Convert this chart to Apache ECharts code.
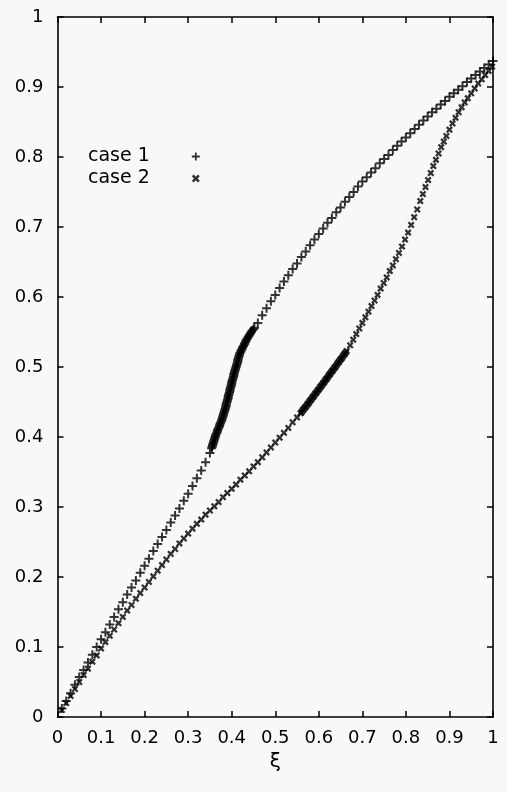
<!DOCTYPE html>
<html><head><meta charset="utf-8">
<script src="https://cdn.jsdelivr.net/npm/echarts@6/dist/echarts.min.js"></script>
<style>html,body{margin:0;padding:0;background:#f8f8f8}#c{width:507px;height:792px}</style>
</head><body><div id="c"></div>
<script>
// ---- data ----
const axisMin = 0, axisMax = 1, tickStep = 0.1;
const seriesNames = ['case 1', 'case 2'];
const xName = 'ξ';

const case1Lower = [[0.01,0.012],[0.02,0.023],[0.03,0.034],[0.04,0.046],[0.05,0.057],[0.06,0.067],[0.07,0.078],[0.08,0.089],[0.09,0.1],[0.10,0.111],[0.11,0.121],[0.12,0.132],[0.13,0.143],[0.14,0.154],[0.15,0.164],[0.16,0.175],[0.17,0.185],[0.18,0.195],[0.19,0.206],[0.20,0.216],[0.21,0.226],[0.22,0.237],[0.23,0.247],[0.24,0.257],[0.25,0.267],[0.26,0.278],[0.27,0.288],[0.28,0.298],[0.29,0.309],[0.30,0.319],[0.31,0.330],[0.32,0.341],[0.33,0.352],[0.34,0.364],[0.35,0.377]];
const case1Dense = [[0.354,0.384],[0.355,0.386],[0.356,0.388],[0.357,0.390],[0.358,0.392],[0.359,0.394],[0.360,0.396],[0.361,0.398],[0.362,0.400],[0.363,0.402],[0.364,0.404],[0.366,0.406],[0.367,0.408],[0.368,0.410],[0.369,0.412],[0.371,0.414],[0.372,0.416],[0.373,0.418],[0.374,0.420],[0.376,0.422],[0.377,0.424],[0.378,0.426],[0.379,0.428],[0.380,0.430],[0.381,0.432],[0.382,0.434],[0.383,0.436],[0.384,0.438],[0.385,0.440],[0.386,0.442],[0.387,0.444],[0.387,0.446],[0.388,0.448],[0.389,0.450],[0.390,0.452],[0.391,0.454],[0.392,0.456],[0.392,0.458],[0.393,0.460],[0.394,0.462],[0.395,0.464],[0.396,0.466],[0.396,0.468],[0.397,0.470],[0.398,0.472],[0.399,0.474],[0.400,0.476],[0.400,0.478],[0.401,0.480],[0.402,0.482],[0.403,0.484],[0.404,0.486],[0.405,0.488],[0.405,0.490],[0.406,0.492],[0.407,0.494],[0.408,0.496],[0.409,0.498],[0.410,0.500],[0.411,0.502],[0.412,0.504],[0.413,0.506],[0.414,0.508],[0.414,0.510],[0.415,0.512],[0.416,0.514],[0.417,0.516],[0.418,0.518],[0.419,0.520],[0.421,0.522],[0.422,0.524],[0.424,0.526],[0.425,0.528],[0.427,0.530],[0.429,0.532],[0.430,0.534],[0.432,0.536],[0.433,0.538],[0.435,0.540],[0.437,0.542],[0.439,0.544],[0.441,0.546],[0.443,0.548],[0.445,0.550],[0.447,0.552],[0.450,0.554],[0.452,0.556]];
const case1Upper = [[0.46,0.563],[0.47,0.574],[0.48,0.584],[0.49,0.594],[0.50,0.603],[0.51,0.613],[0.52,0.622],[0.53,0.631],[0.54,0.640],[0.55,0.648],[0.56,0.657],[0.57,0.665],[0.58,0.674],[0.59,0.682],[0.60,0.690],[0.61,0.698],[0.62,0.706],[0.63,0.713],[0.64,0.721],[0.65,0.728],[0.66,0.736],[0.67,0.743],[0.68,0.750],[0.69,0.758],[0.70,0.765],[0.71,0.771],[0.72,0.778],[0.73,0.784],[0.74,0.791],[0.75,0.797],[0.76,0.803],[0.77,0.810],[0.78,0.816],[0.79,0.822],[0.80,0.828],[0.81,0.834],[0.82,0.840],[0.83,0.846],[0.84,0.852],[0.85,0.858],[0.86,0.864],[0.87,0.869],[0.88,0.875],[0.89,0.880],[0.90,0.886],[0.91,0.891],[0.92,0.896],[0.93,0.901],[0.94,0.907],[0.95,0.912],[0.96,0.917],[0.97,0.922],[0.98,0.927],[0.99,0.932],[1.00,0.937]];

const case2Lower = [[0.01,0.010],[0.02,0.020],[0.03,0.030],[0.04,0.040],[0.05,0.050],[0.06,0.060],[0.07,0.069],[0.08,0.079],[0.09,0.088],[0.10,0.098],[0.11,0.107],[0.12,0.116],[0.13,0.125],[0.14,0.134],[0.15,0.143],[0.16,0.152],[0.17,0.160],[0.18,0.169],[0.19,0.177],[0.20,0.185],[0.21,0.193],[0.22,0.201],[0.23,0.209],[0.24,0.217],[0.25,0.225],[0.26,0.233],[0.27,0.240],[0.28,0.248],[0.29,0.255],[0.30,0.262],[0.31,0.269],[0.32,0.276],[0.33,0.282],[0.34,0.289],[0.35,0.295],[0.36,0.301],[0.37,0.307],[0.38,0.314],[0.39,0.320],[0.40,0.326],[0.41,0.332],[0.42,0.339],[0.43,0.345],[0.44,0.351],[0.45,0.358],[0.46,0.364],[0.47,0.371],[0.48,0.378],[0.49,0.385],[0.50,0.392],[0.51,0.399],[0.52,0.406],[0.53,0.413],[0.54,0.421],[0.55,0.428]];
const case2Dense = [[0.558,0.434],[0.560,0.435],[0.562,0.437],[0.564,0.439],[0.566,0.440],[0.568,0.442],[0.570,0.443],[0.572,0.445],[0.574,0.447],[0.576,0.448],[0.578,0.450],[0.580,0.452],[0.582,0.453],[0.584,0.455],[0.586,0.457],[0.588,0.458],[0.590,0.460],[0.592,0.462],[0.594,0.463],[0.596,0.465],[0.598,0.467],[0.600,0.468],[0.602,0.470],[0.604,0.472],[0.606,0.473],[0.608,0.475],[0.610,0.477],[0.612,0.478],[0.614,0.480],[0.616,0.482],[0.618,0.483],[0.620,0.485],[0.622,0.487],[0.624,0.489],[0.626,0.490],[0.628,0.492],[0.630,0.494],[0.632,0.495],[0.634,0.497],[0.636,0.499],[0.638,0.500],[0.640,0.502],[0.642,0.504],[0.644,0.506],[0.646,0.507],[0.648,0.509],[0.650,0.511],[0.652,0.512],[0.654,0.514],[0.656,0.516],[0.658,0.518],[0.660,0.519],[0.662,0.521],[0.664,0.523]];
const case2Upper = [[0.672,0.531],[0.679,0.539],[0.686,0.547],[0.693,0.555],[0.700,0.563],[0.707,0.571],[0.714,0.579],[0.721,0.587],[0.728,0.595],[0.735,0.603],[0.742,0.612],[0.749,0.620],[0.756,0.628],[0.763,0.637],[0.770,0.645],[0.777,0.654],[0.784,0.663],[0.791,0.672],[0.798,0.682],[0.805,0.692],[0.812,0.703],[0.819,0.714],[0.826,0.725],[0.833,0.737],[0.839,0.747],[0.845,0.757],[0.851,0.767],[0.857,0.777],[0.863,0.787],[0.869,0.796],[0.875,0.805],[0.881,0.814],[0.887,0.822],[0.893,0.830],[0.900,0.839],[0.907,0.848],[0.914,0.856],[0.921,0.864],[0.928,0.871],[0.935,0.878],[0.942,0.884],[0.950,0.891],[0.958,0.898],[0.966,0.905],[0.974,0.911],[0.982,0.917],[0.990,0.923],[0.998,0.929]];

// ---- styling ----
const ink = '#000';
const font = 'DejaVu Sans';
const plusPath = 'path://M-1.1,-5H1.1V-1.1H5V1.1H1.1V5H-1.1V1.1H-5V-1.1H-1.1Z';
const crossPath = 'path://M-5,-2.7L-2.3,0L-5,2.7L-2.7,5L0,2.3L2.7,5L5,2.7L2.3,0L5,-2.7L2.7,-5L0,-2.3L-2.7,-5Z';

function axisBase(extra) {
  return Object.assign({
    type: 'value', min: axisMin, max: axisMax, interval: tickStep,
    axisLine: { show: true, onZero: false, lineStyle: { color: ink, width: 1.6 } },
    axisTick: { show: true, inside: true, length: 6, lineStyle: { color: ink, width: 1.5 } },
    splitLine: { show: false },
    axisLabel: { show: false }
  }, extra);
}

const chart = echarts.init(document.getElementById('c'), null, { renderer: 'canvas' });
chart.setOption({
  backgroundColor: '#f8f8f8',
  animation: false,
  grid: { left: 57.5, right: 14, top: 17, bottom: 75 },
  legend: {
    data: seriesNames, orient: 'vertical', left: 88, top: 147, align: 'right',
    itemWidth: 8, itemHeight: 8, itemGap: 3, padding: 0,
    textStyle: { fontFamily: font, fontSize: 19, color: ink, padding: [0, 37, 0, 0] },
    selectedMode: false
  },
  xAxis: [
    axisBase({ position: 'bottom', name: xName, nameLocation: 'middle', nameGap: 32,
      nameTextStyle: { fontFamily: font, fontSize: 20, color: ink },
      axisLabel: { show: true, margin: 12, fontFamily: font, fontSize: 18, color: ink } }),
    axisBase({ position: 'top' })
  ],
  yAxis: [
    axisBase({ position: 'left',
      axisLabel: { show: true, margin: 14, fontFamily: font, fontSize: 18, color: ink } }),
    axisBase({ position: 'right' })
  ],
  series: [
    { name: seriesNames[0], type: 'scatter', symbol: plusPath, symbolSize: 9,
      itemStyle: { color: ink }, data: case1Lower.concat(case1Dense, case1Upper) },
    { name: seriesNames[1], type: 'scatter', symbol: crossPath, symbolSize: 7,
      itemStyle: { color: ink }, data: case2Lower.concat(case2Dense, case2Upper) }
  ]
});
</script></body></html>
